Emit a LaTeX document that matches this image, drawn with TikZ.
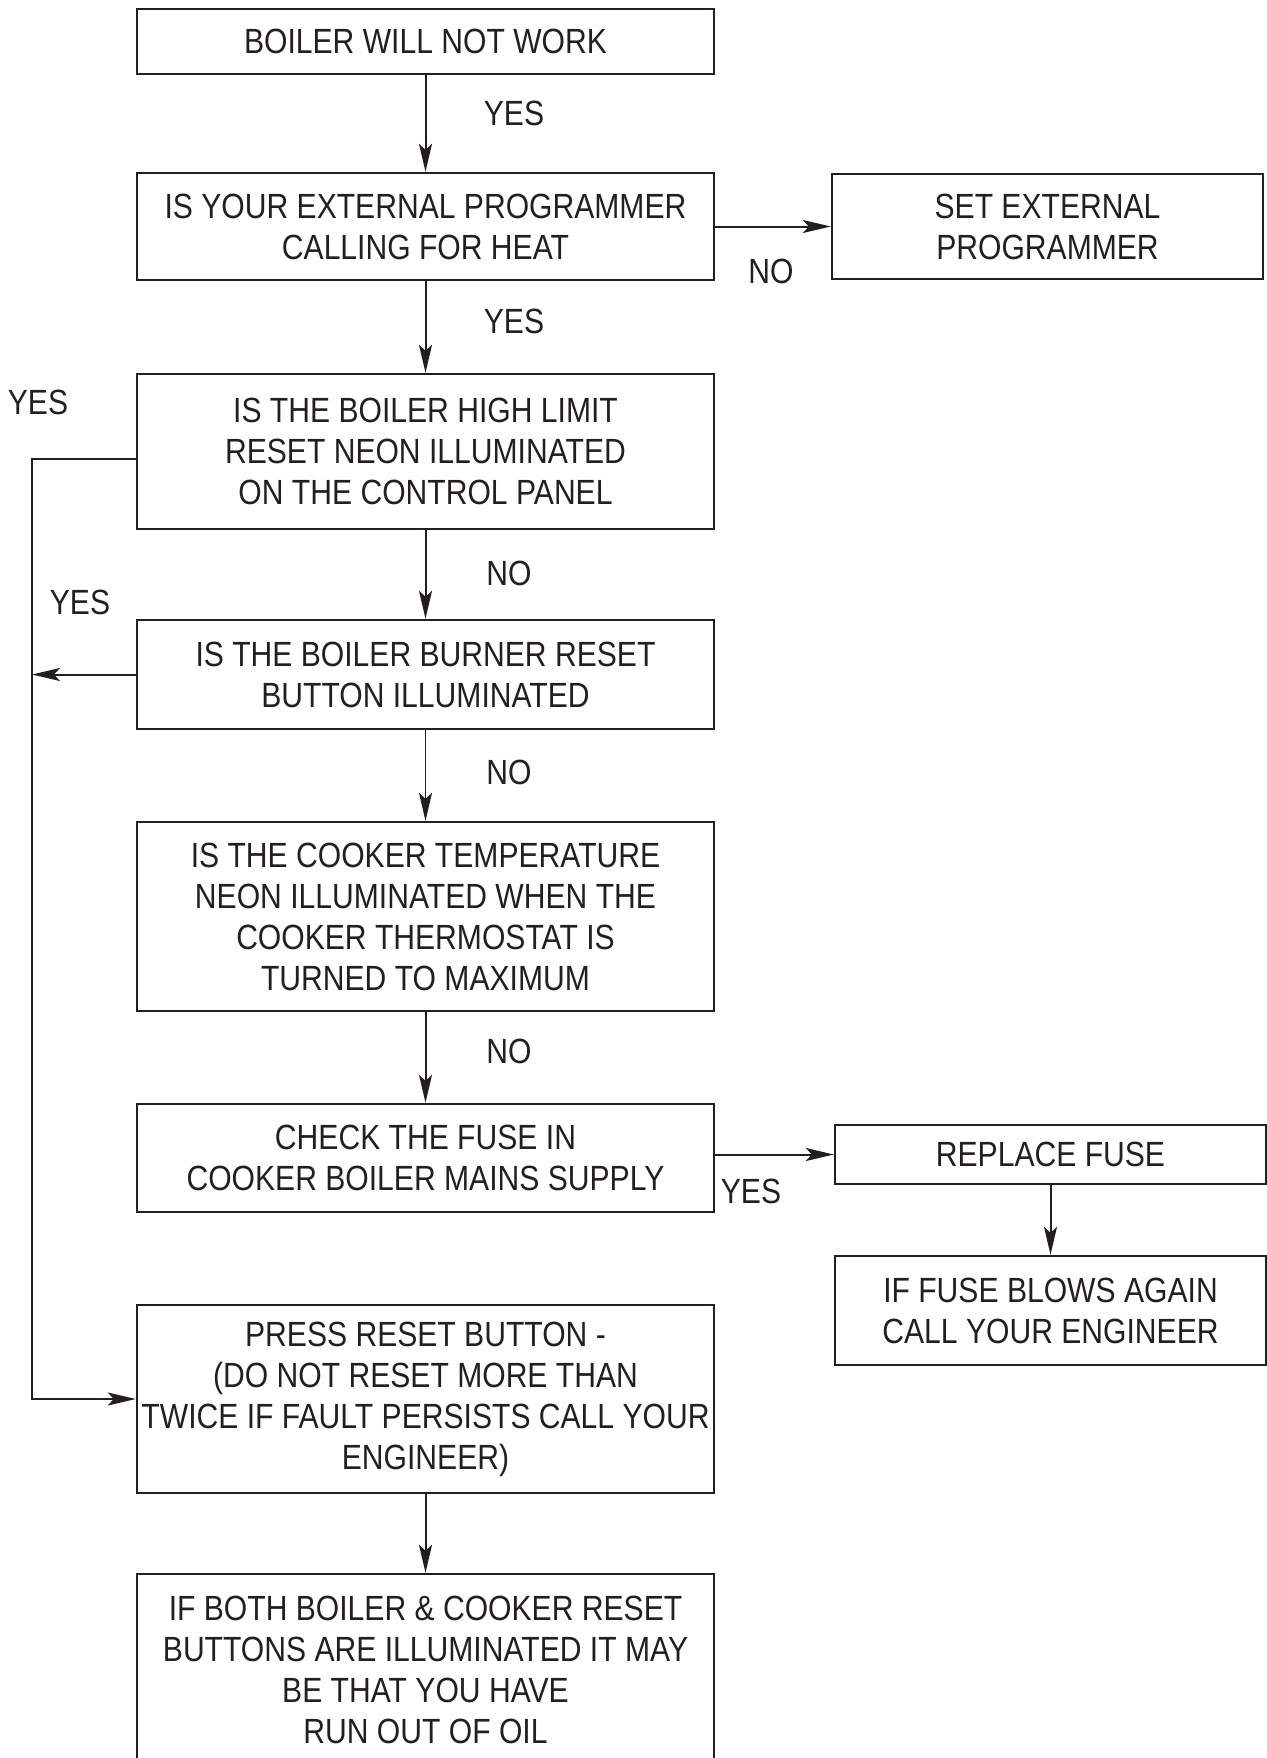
\documentclass[tikz,border=0pt]{standalone}
\usepackage{fontspec}
\setmainfont[FakeStretch=0.86]{Liberation Sans}
\usetikzlibrary{arrows.meta}
\definecolor{ink}{HTML}{231F20}
\begin{document}
\begin{tikzpicture}[x=0.5pt,y=-0.5pt,
    box/.style={draw=ink,line width=1.2pt,align=center,inner sep=0pt,text=ink,
        font=\fontsize{17.5}{20.5}\selectfont},
    lbl/.style={inner sep=0pt,text=ink,font=\fontsize{17.5}{20.5}\selectfont},
    link/.style={draw=ink,line width=1pt,-{Stealth[length=14pt,width=6.5pt,inset=3pt]}}]
                \useasboundingbox (0,0) rectangle (1267,1758);
                \clip (0,0) rectangle (1267,1758);
                \node[box,minimum width=288.5pt,minimum height=32.5pt] (1) at(425.5,41.5){BOILER WILL NOT WORK};
                \node[box,minimum width=288.5pt,minimum height=53.5pt] (2) at(425.5,226.5){IS YOUR EXTERNAL PROGRAMMER\\CALLING FOR HEAT};
                \node[box,minimum width=215.5pt,minimum height=52.5pt] (3) at(1047.5,226.5){SET EXTERNAL\\PROGRAMMER};
                \node[box,minimum width=288.5pt,minimum height=77.5pt] (4) at(425.5,451.5){IS THE BOILER HIGH LIMIT\\RESET NEON ILLUMINATED\\ON THE CONTROL PANEL};
                \node[box,minimum width=288.5pt,minimum height=54.5pt] (5) at(425.5,674.5){IS THE BOILER BURNER RESET\\BUTTON ILLUMINATED};
                \node[box,minimum width=288.5pt,minimum height=94.5pt] (6) at(425.5,916.5){IS THE COOKER TEMPERATURE\\NEON ILLUMINATED WHEN THE\\COOKER THERMOSTAT IS\\TURNED TO MAXIMUM};
                \node[box,minimum width=288.5pt,minimum height=54pt] (7) at(425.5,1158){CHECK THE FUSE IN\\COOKER BOILER MAINS SUPPLY};
                \node[box,minimum width=215.5pt,minimum height=29.5pt] (8) at(1050.5,1154.5){REPLACE FUSE};
                \node[box,minimum width=215.5pt,minimum height=54.5pt] (9) at(1050.5,1310.5){IF FUSE BLOWS AGAIN\\CALL YOUR ENGINEER};
                \node[box,minimum width=288.5pt,minimum height=94pt] (10) at(425.5,1399){PRESS RESET BUTTON -\\(DO NOT RESET MORE THAN\\TWICE IF FAULT PERSISTS CALL YOUR\\ENGINEER)};
                \node[box,minimum width=288.5pt,minimum height=96pt] (11) at(425.5,1670){IF BOTH BOILER \& COOKER RESET\\BUTTONS ARE ILLUMINATED IT MAY\\BE THAT YOU HAVE\\RUN OUT OF OIL};
                % answers
                \node[lbl] (y1) at(514,113){YES};
                \node[lbl] (y2) at(514,321){YES};
                \node[lbl] (y3) at(38,402){YES};
                \node[lbl] (y4) at(80,602){YES};
                \node[lbl] (y5) at(751,1191){YES};
                \node[lbl] (n1) at(771,271){NO};
                \node[lbl] (n2) at(509,573){NO};
                \node[lbl] (n3) at(509,772){NO};
                \node[lbl] (n4) at(509,1051){NO};
                \coordinate (bend) at(32,459);
                \draw[link] (1) --(2);
                \draw[link] (2) --(3);
                \draw[link] (2) --(4);
                \draw[link] (4) --(5);
                \draw[link,line width=0.5pt] (5) --(6);
                \draw[link] (6) --(7);
                \draw[link] (7.east |- 8.west) --(8);
                \draw[link] (8) --(9);
                \draw[link] (10) --(11);
                \draw[link] (4.west |- bend) --(bend) |-(10);
                \draw[link] (5) --(5.west -| bend);
            \end{tikzpicture}
\end{document}
